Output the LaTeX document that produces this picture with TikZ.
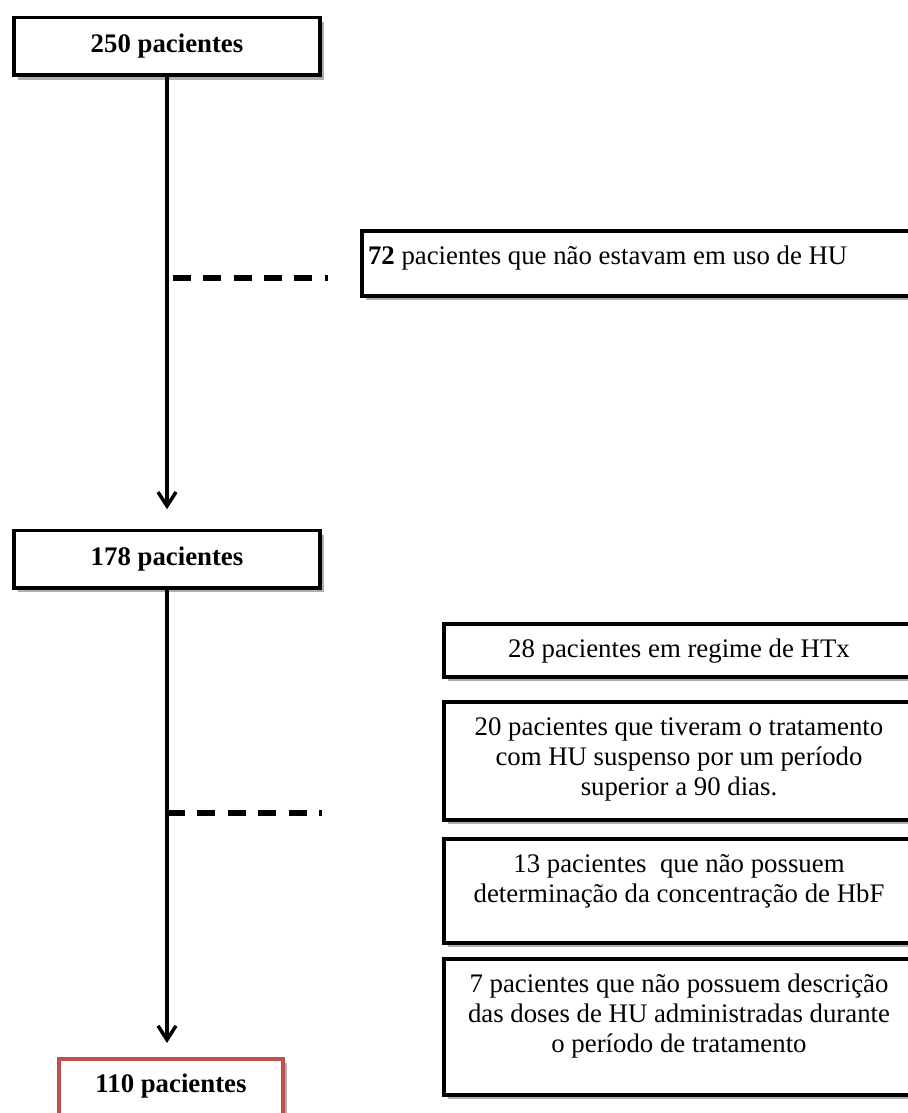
\documentclass[tikz,border=0pt]{standalone}
\usepackage{fontspec}
\setmainfont{Liberation Serif}
\usetikzlibrary{
  arrows.meta,
  positioning,
  shadows,
}
\definecolor{boxred}{RGB}{192,80,77}
\newcommand{\inbox}[4][\centering]{%
  \parbox[t][#2][t]{#3}{#1\vspace*{6.6pt}\strut#4}}
\tikzset{
  x = .5pt,
  y = -.5pt,
  every node/.style={font=\fontsize{13.4}{14.8}\selectfont},
  base/.style={
    draw, fill=white, line width=1.75pt,
    inner sep=0pt, outer sep=0pt,
    drop shadow={shadow xshift=2.2pt, shadow yshift=-2.2pt,
      opacity=.45, fill=black!70},
  },
  pbox/.style={
    base, minimum width=153pt, minimum height=28.75pt,
    font=\fontsize{13.4}{14.8}\selectfont\bfseries,
  },
  xbox/.style={base, anchor=north west},
  >={Straight Barb[length=7pt, width=9pt]},
  flow/.style={->, line width=1.75pt},
  cut/.style={line width=3pt, dash pattern=on 9pt off 6.2pt},
}

\begin{document}
\begin{tikzpicture}
  \useasboundingbox (0,0) rectangle (908,1113);
  \clip (0,0) rectangle (908,1113);
  \node[pbox](P250) at (167,46.5){250 pacientes};
  \node[pbox](P178) at (167,559){178 pacientes};
  \node[xbox, draw=boxred, anchor=north](P110) at (171,1059)
    {\inbox{40pt}{112pt}{\bfseries 110 pacientes}};
  %%
  \node[xbox](X72) at (362,231)
    {\inbox[\raggedright\leftskip=3pt]{32.5pt}{276pt}{\textbf{72} pacientes que não estavam em uso de HU}};
  %%
  \node[xbox](X28) at (444,624)
    {\inbox{26.5pt}{235pt}{28 pacientes em regime de HTx}};
  \node[xbox, below=12.5pt of X28.south west, anchor=north west](X20)
    {\inbox{59pt}{235pt}{20 pacientes que tiveram o tratamento\\com HU suspenso por um período\\superior a 90 dias.}};
  \node[xbox, below=9.5pt of X20.south west, anchor=north west](X13)
    {\inbox{52pt}{235pt}{13 pacientes\ \ que não possuem\\determinação da concentração de HbF}};
  \node[xbox, below=8pt of X13.south west, anchor=north west](X7)
    {\inbox{68pt}{235pt}{7 pacientes que não possuem descrição\\das doses de HU administradas durante\\o período de tratamento}};
  %%
  \coordinate (C1) at (328,278);
  \coordinate (C2) at (322,813);
  \draw[cut, dash phase=12.35pt](P250.south |- C1) -- (C1);
  \draw[cut](P178.south |- C2) -- (C2);
  %%
  \draw[flow, shorten >=10.5pt](P250.south) -- (P178.north);
  \draw[flow, shorten >=8pt](P178.south) -- (P178.south |- P110.north);
\end{tikzpicture}
\end{document}
